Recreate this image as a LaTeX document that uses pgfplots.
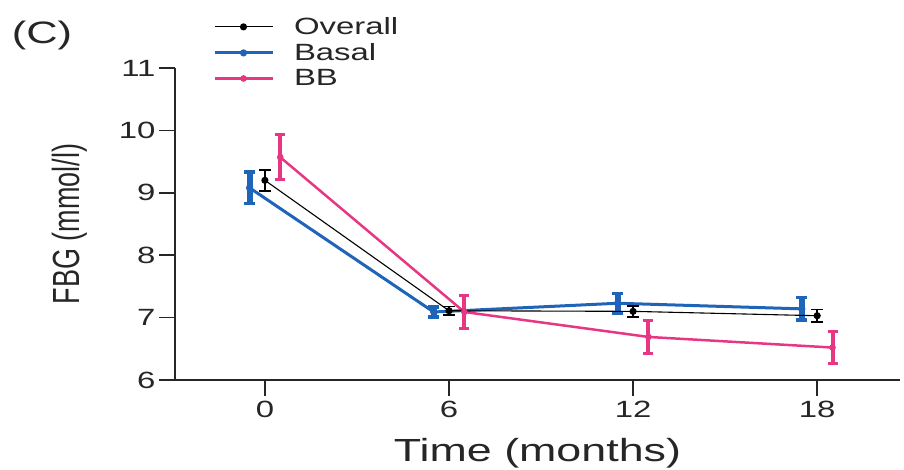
\documentclass[border=0pt]{standalone}
\usepackage{pgfplots}
\pgfplotsset{compat=1.18}
\usepackage{fontspec}
\setmainfont{Liberation Sans}[FakeStretch=1.4]
\newfontfamily\plainfont{Liberation Sans}
\definecolor{cblue}{RGB}{30,100,185}
\definecolor{cpink}{RGB}{232,55,130}
\begin{document}
\begin{tikzpicture}
\useasboundingbox (0,0) rectangle (904pt,469pt);
\node[font=\fontsize{31}{36}\selectfont, text=black!85] at (42pt,434pt) {(C)};
\begin{axis}[
  at={(175pt,89pt)}, anchor=south west,
  scale only axis, width=725pt, height=312pt,
  xmin=-2.93, xmax=20.7, ymin=6, ymax=11,
  axis x line*=bottom, axis y line*=left,
  axis line style={line width=1.6pt, black!85},
  xtick={0,6,12,18}, ytick={6,7,8,9,10,11},
  tick align=outside, major tick length=16pt,
  tick style={line width=1.6pt, black!85},
  /pgf/number format/assume math mode=true,
  ticklabel style={font=\fontsize{23.5}{28}\selectfont, text=black!85},
  xticklabel style={yshift=-2pt},
  xlabel={Time (months)},
  xlabel style={font=\fontsize{32}{36}\selectfont, text=black!85, at={(axis description cs:0.5,-0.235)}, anchor=center},
  ylabel={\scalebox{1}[1.4]{\plainfont\fontsize{27}{30}\selectfont FBG (mmol/l)}},
  ylabel style={text=black!85, at={(axis description cs:-0.145,0.5)}, anchor=center},
  reverse legend,
  legend style={at={(0.048,1.175)}, anchor=north west, draw=none, fill=none,
    font=\fontsize{23.5}{28}\selectfont, text=black!85, cells={anchor=west}, row sep=3.5pt,
    /tikz/every odd column/.append style={column sep=18pt}},
  legend image code/.code={\draw[mark repeat=2, mark phase=2, #1] plot coordinates {(0pt,0pt)(29pt,0pt)(58pt,0pt)};},
  clip=false,
]
\addplot[cpink, line width=2.5pt, mark=*, mark size=2pt,
  error bars/.cd, y dir=both, y explicit,
  error bar style={line width=4pt, cpink},
  error mark options={rotate=90, mark size=5pt, line width=3pt, cpink}]
  coordinates {(0.5,9.57) +- (0,0.36) (6.5,7.09) +- (0,0.26) (12.5,6.69) +- (0,0.26) (18.5,6.52) +- (0,0.25)};
\addlegendentry{BB}
\addplot[cblue, line width=3pt, mark=*, mark size=2pt,
  error bars/.cd, y dir=both, y explicit,
  error bar style={line width=6pt, cblue},
  error mark options={rotate=90, mark size=5.5pt, line width=3.5pt, cblue}]
  coordinates {(-0.5,9.08) +- (0,0.25) (5.5,7.09) +- (0,0.08) (11.5,7.23) +- (0,0.16) (17.5,7.14) +- (0,0.18)};
\addlegendentry{Basal}
\addplot[black, line width=1.1pt, mark=*, mark size=3pt,
  error bars/.cd, y dir=both, y explicit,
  error bar style={line width=1.6pt, black},
  error mark options={rotate=90, mark size=6pt, line width=1.6pt, black}]
  coordinates {(0,9.20) +- (0,0.17) (6,7.11) +- (0,0.07) (12,7.10) +- (0,0.09) (18,7.03) +- (0,0.10)};
\addlegendentry{Overall}
\end{axis}
\end{tikzpicture}
\end{document}
